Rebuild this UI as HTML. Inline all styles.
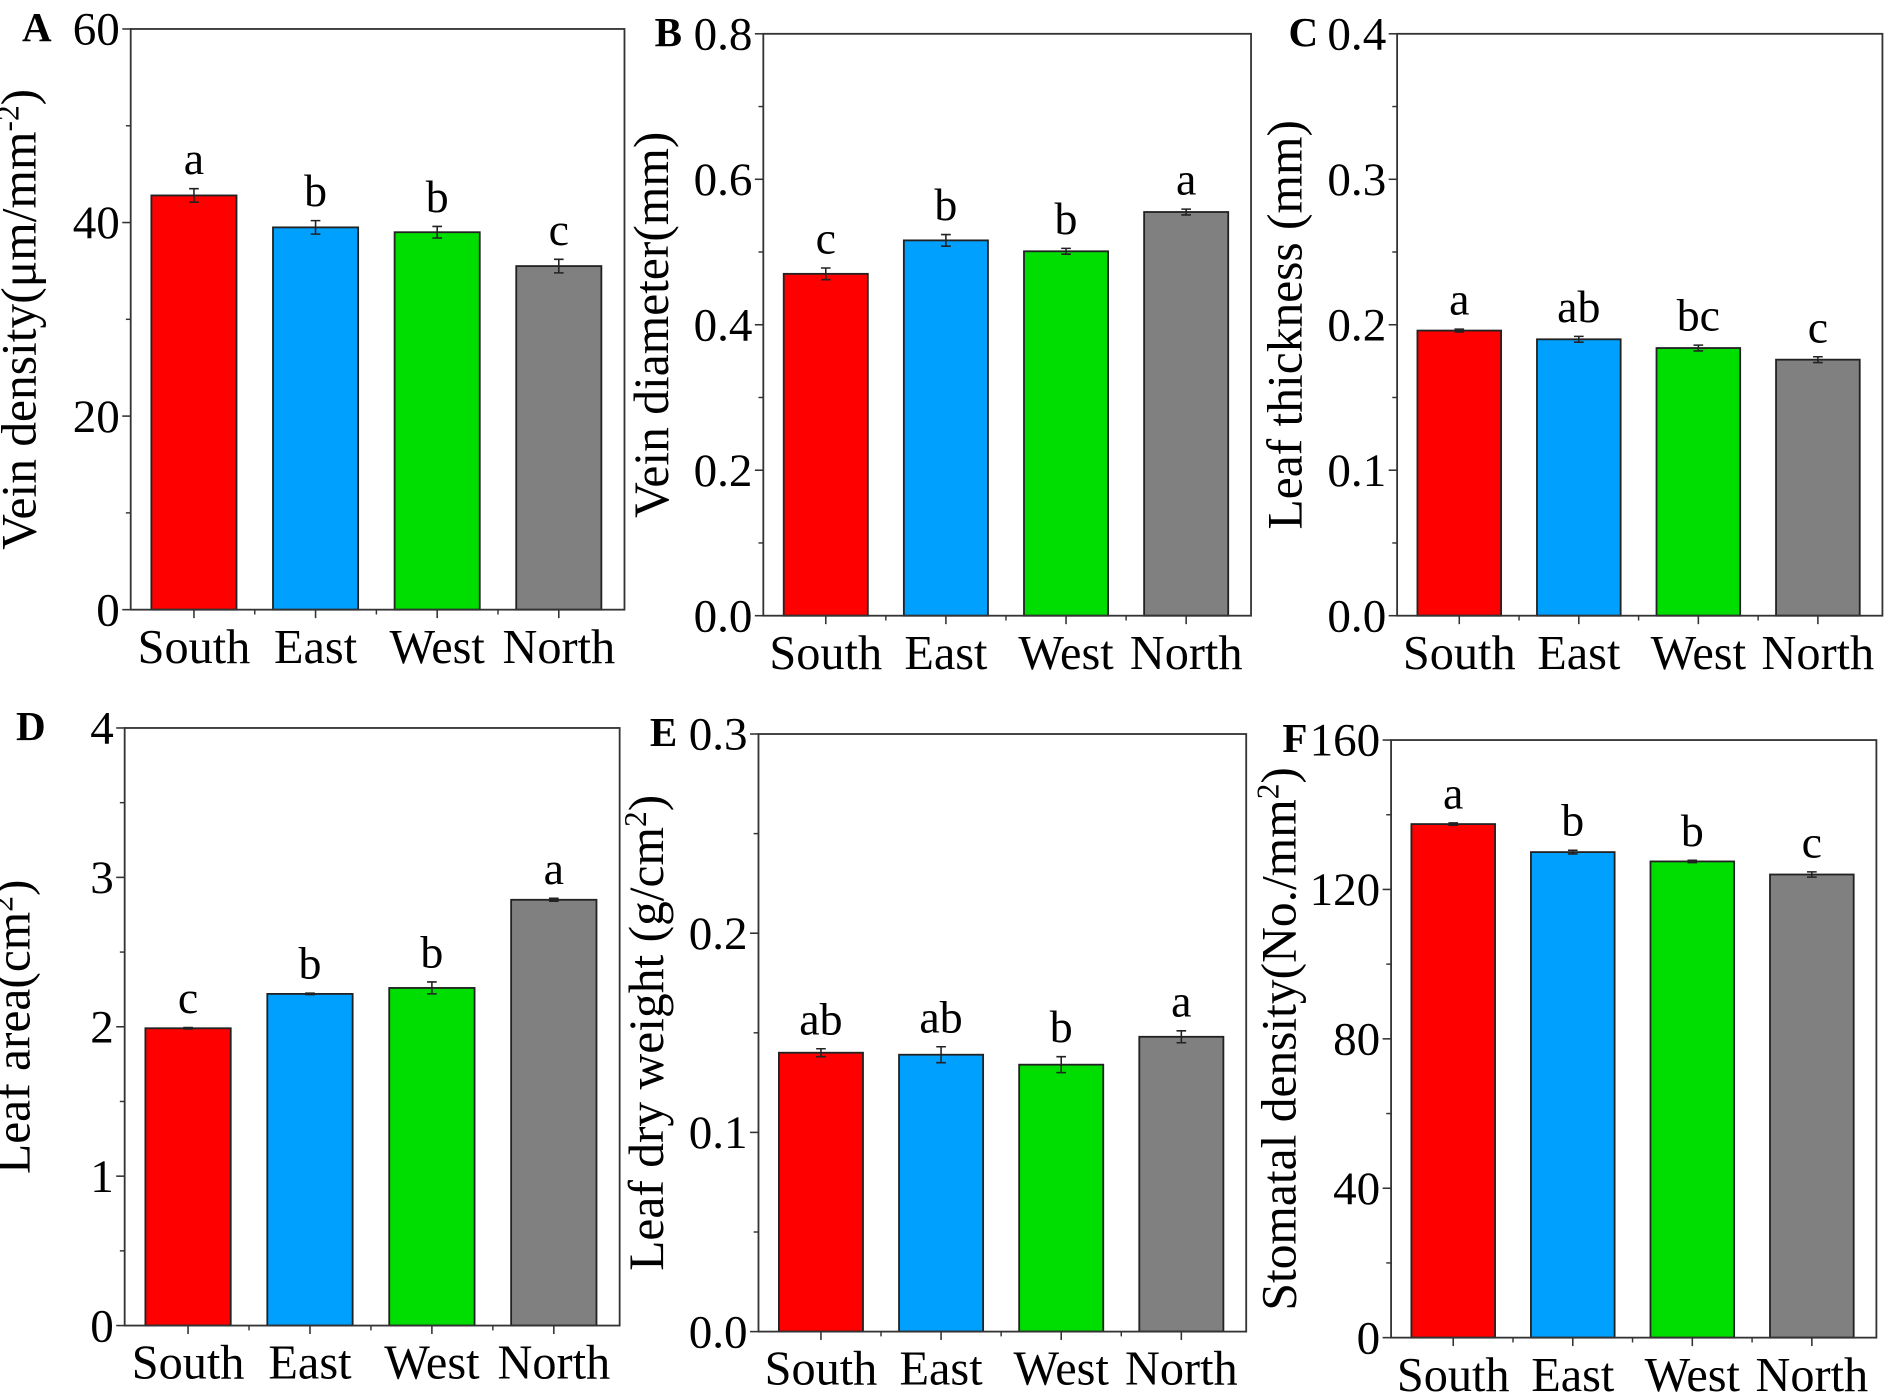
<!DOCTYPE html>
<html><head><meta charset="utf-8"><style>
html,body{margin:0;padding:0;background:#fff;}
svg{display:block;font-family:"Liberation Serif",serif;}
</style></head><body>
<svg id="fig" width="1890" height="1398" viewBox="0 0 1565 1158" xmlns="http://www.w3.org/2000/svg"></svg>
<script>
const categories = ["South","East","West","North"];
const colors = ["#ff0000","#00a0ff","#00dd00","#808080"];
const valsA = [42.8, 39.5, 39.0, 35.5];
const errsA = [0.7, 0.7, 0.6, 0.7];
const lettersA = ["a","b","b","c"];
const valsB = [0.470, 0.516, 0.501, 0.555];
const errsB = [0.008, 0.008, 0.004, 0.004];
const lettersB = ["c","b","b","a"];
const valsC = [0.196, 0.190, 0.184, 0.176];
const errsC = [0.001, 0.002, 0.002, 0.002];
const lettersC = ["a","ab","bc","c"];
const valsD = [1.99, 2.22, 2.26, 2.85];
const errsD = [0.005, 0.005, 0.04, 0.01];
const lettersD = ["c","b","b","a"];
const valsE = [0.140, 0.139, 0.134, 0.148];
const errsE = [0.002, 0.004, 0.004, 0.003];
const lettersE = ["ab","ab","b","a"];
const valsF = [137.5, 130.0, 127.5, 124.0];
const errsF = [0.3, 0.5, 0.3, 0.7];
const lettersF = ["a","b","b","c"];
const ticksA = ["0","20","40","60"];
const ticksB = ["0.0","0.2","0.4","0.6","0.8"];
const ticksC = ["0.0","0.1","0.2","0.3","0.4"];
const ticksD = ["0","1","2","3","4"];
const ticksE = ["0.0","0.1","0.2","0.3"];
const ticksF = ["0","40","80","120","160"];

const panels = [
 {id:"A",x0:108,x1:517,y0:24,y1:505,ymax:60,ticks:ticksA,vals:valsA,errs:errsA,letters:lettersA,title:'Vein density(μm/mm<tspan baseline-shift="super" font-size="26">-2</tspan>)'},
 {id:"B",x0:632,x1:1036,y0:28,y1:510,ymax:0.8,ticks:ticksB,vals:valsB,errs:errsB,letters:lettersB,title:'Vein diameter(mm)'},
 {id:"C",x0:1157,x1:1559,y0:28,y1:510,ymax:0.4,ticks:ticksC,vals:valsC,errs:errsC,letters:lettersC,title:'Leaf thickness (mm)'},
 {id:"D",x0:103,x1:513,y0:603,y1:1098,ymax:4,ticks:ticksD,vals:valsD,errs:errsD,letters:lettersD,title:'Leaf area(cm<tspan baseline-shift="super" font-size="26">2</tspan>)'},
 {id:"E",x0:628,x1:1032,y0:608,y1:1103,ymax:0.3,ticks:ticksE,vals:valsE,errs:errsE,letters:lettersE,title:'Leaf dry weight (g/cm<tspan baseline-shift="super" font-size="26">2</tspan>)'},
 {id:"F",x0:1152,x1:1554,y0:613,y1:1108,ymax:160,ticks:ticksF,vals:valsF,errs:errsF,letters:lettersF,title:'Stomatal density(No./mm<tspan baseline-shift="super" font-size="26">2</tspan>)'}
];
const svg = document.getElementById('fig');
const NS = "http://www.w3.org/2000/svg";
function mk(tag, attrs, parent){const e=document.createElementNS(NS,tag);for(const k in attrs)e.setAttribute(k,attrs[k]);(parent||svg).appendChild(e);return e;}

panels.forEach(p=>{
  const g = mk('g',{});
  
  
  const xs = v => p.x0 + (v-0.48)/(4.54-0.48)*(p.x1-p.x0);
  const ys = v => p.y1 - v/p.ymax*(p.y1-p.y0);
  const n = p.ticks.length-1;
  p.vals.forEach((v,i)=>{
    const cx = xs(i+1), hw = 0.35*(p.x1-p.x0)/(4.54-0.48);
    const r = mk('rect',{x:cx-hw,y:ys(v),width:2*hw,height:ys(0)-ys(v),fill:colors[i],stroke:'#222','stroke-width':1.5},g);
    
    
    const e = p.errs[i], yt = ys(v+e), yb = ys(v-e);
    const eb = mk('path',{d:`M${cx} ${yt}V${yb}M${cx-4} ${yt}H${cx+4}M${cx-4} ${yb}H${cx+4}`,stroke:'#222','stroke-width':1.3,fill:'none'},g);
    
    
    const t = mk('text',{x:cx,y:yt-12,'text-anchor':'middle','font-size':38},g);
    t.textContent = p.letters[i];
    
    
    const xl = mk('text',{x:cx,y:p.y1+44,'text-anchor':'middle','font-size':40},g);
    xl.textContent = categories[i];
    
    
    mk('line',{x1:cx,x2:cx,y1:p.y1,y2:p.y1+7,stroke:'#333','stroke-width':1.3},g);
    const mx = xs(i+1.5);
    if(i<3) mk('line',{x1:mx,x2:mx,y1:p.y1,y2:p.y1+4,stroke:'#333','stroke-width':1.2},g);
  });
  const fr = mk('rect',{x:p.x0,y:p.y0,width:p.x1-p.x0,height:p.y1-p.y0,fill:'none',stroke:'#333','stroke-width':1.5},g);
  
  
  p.ticks.forEach((lab,k)=>{
    const v = p.ymax*k/n, y = ys(v);
    mk('line',{x1:p.x0-7,x2:p.x0,y1:y,y2:y,stroke:'#333','stroke-width':1.3},g);
    if(k<n){const ym=ys(p.ymax*(k+0.5)/n);mk('line',{x1:p.x0-4,x2:p.x0,y1:ym,y2:ym,stroke:'#333','stroke-width':1.2},g);}
    const t = mk('text',{x:p.x0-9,y:y+13,'text-anchor':'end','font-size':39},g);
    t.textContent = lab;
    
    
  });
  const cy = (p.y0+p.y1)/2;
  const yt = mk('text',{x:0,y:0,'text-anchor':'middle','font-size':41,transform:`translate(${p.x0-79},${cy}) rotate(-90)`},g);
  yt.innerHTML = p.title;
  
  
  const pl = mk('text',{x:p.x0-90,y:p.y0+10,'font-size':34,'font-weight':'bold'},g);
  pl.textContent = p.id;
  
  
});
</script>
</body></html>
